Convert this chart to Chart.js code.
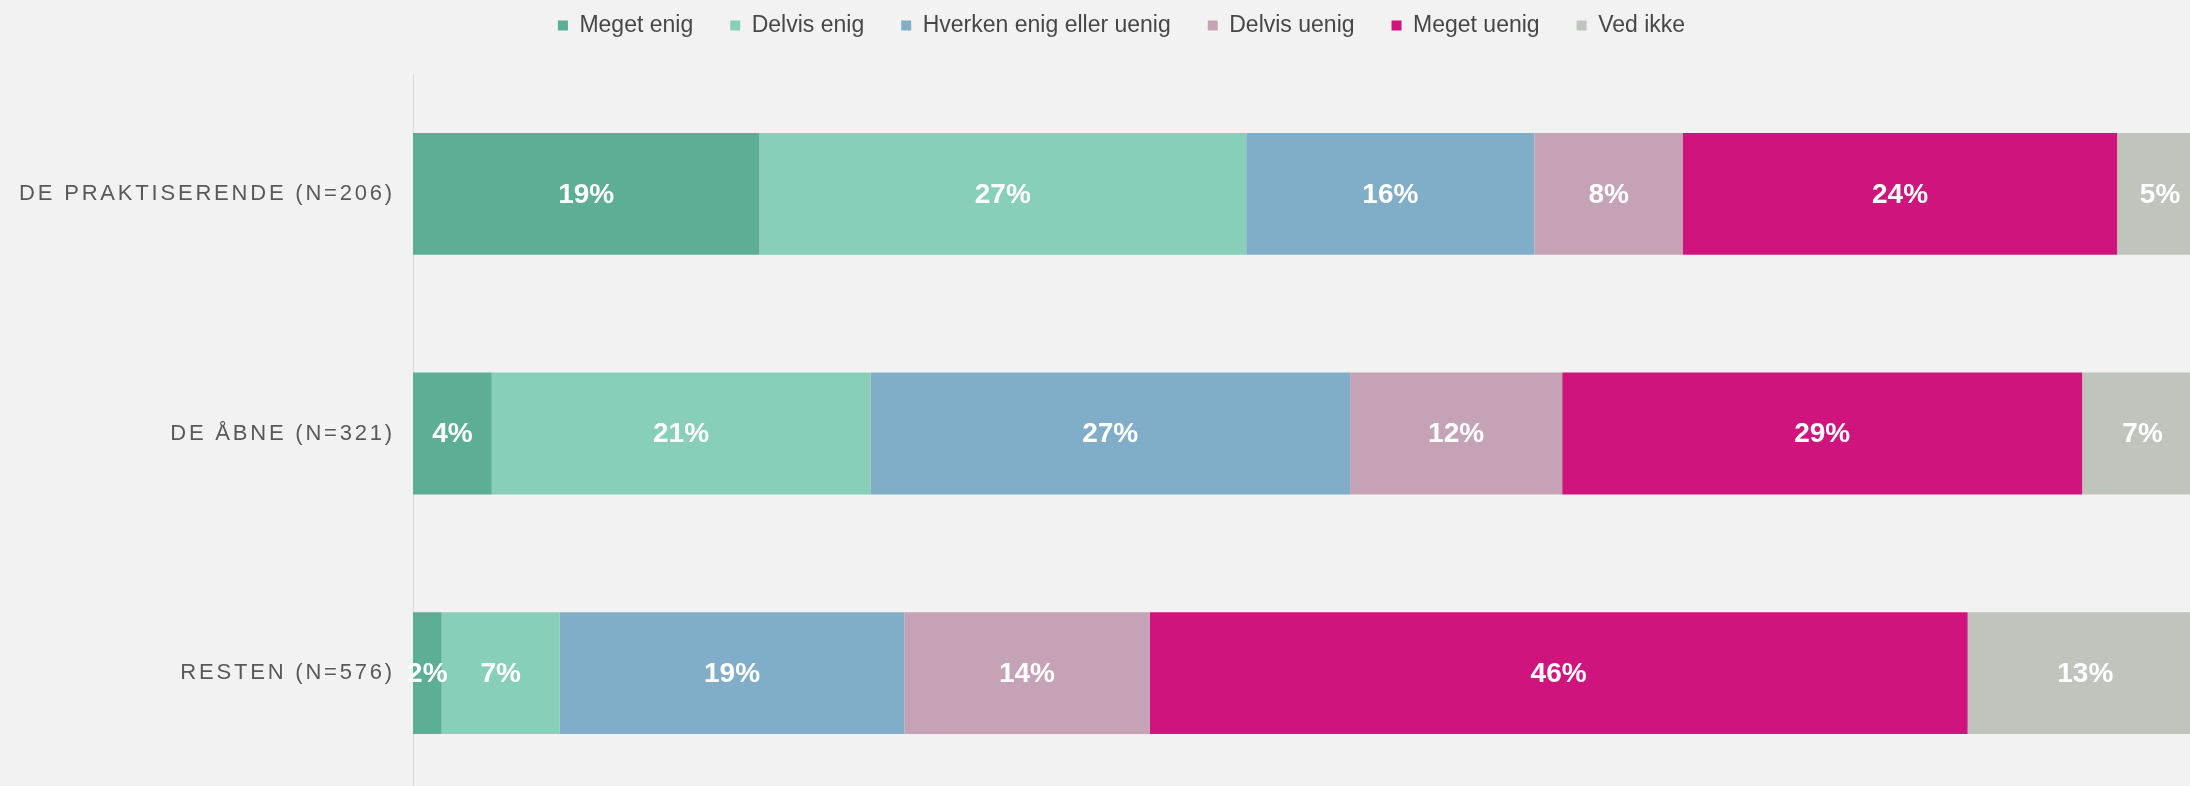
<!DOCTYPE html>
<html>
<head>
<meta charset="utf-8">
<script src="https://cdn.jsdelivr.net/npm/chart.js@4/dist/chart.umd.min.js"></script>
<style>
    html, body {
        margin: 0;
        width: 2190px;
        height: 786px;
        overflow: hidden;
        background: #f2f2f2;
    }
    #wrap {
        position: absolute;
        left: 0;
        top: -23px;
        width: 2242px;
        height: 823px;
    }
</style>
</head>
<body>
<div id="wrap"><canvas id="surveyChart"></canvas></div>
<script>
// Data
const categories = ['DE PRAKTISERENDE (N=206)', 'DE ÅBNE (N=321)', 'RESTEN (N=576)'];
const seriesNames = ['Meget enig', 'Delvis enig', 'Hverken enig eller uenig', 'Delvis uenig', 'Meget uenig', 'Ved ikke'];
const megetEnig = [19.35, 4.4, 1.6];
const delvisEnig = [27.2, 21.15, 6.6];
const hverken = [16.1, 26.8, 19.25];
const delvisUenig = [8.3, 11.85, 13.7];
const megetUenig = [24.25, 29.05, 45.7];
const vedIkke = [4.8, 6.75, 13.15];

const colors = ['#5cae96', '#88cfb9', '#80aec8', '#c6a2b7', '#d0147e', '#bfc4bd'];
const allSeries = [megetEnig, delvisEnig, hverken, delvisUenig, megetUenig, vedIkke];

let datasets = [];
for (let i = 0; i < allSeries.length; i++) {
    datasets.push({
        label: seriesNames[i],
        data: allSeries[i],
        backgroundColor: colors[i],
        borderWidth: 0,
        categoryPercentage: 1,
        barPercentage: 0.508
    })
}

// push the plot area down below the legend
const legendMargin = {
    id: 'legendMargin',
    beforeInit(chart) {
        const fit = chart.legend.fit;
        chart.legend.fit = function () {
            fit.bind(chart.legend)();
            this.height += 27;
        }
    }
};

// category labels with letter spacing
const categoryLabels = {
    id: 'categoryLabels',
    afterDraw(chart) {
        const ctx = chart.ctx;
        const yScale = chart.scales.y;
        ctx.save();
        ctx.font = '22px "Liberation Sans", Arial, sans-serif';
        ctx.fillStyle = '#595959';
        ctx.textAlign = 'right';
        ctx.textBaseline = 'middle';
        ctx.letterSpacing = '2.8px';
        categories.forEach((cat, i) => {
            ctx.fillText(cat, 395, yScale.getPixelForTick(i));
        });
        ctx.restore();
    }
};

// percent labels inside the bars
const barLabels = {
    id: 'barLabels',
    afterDatasetsDraw(chart) {
        const ctx = chart.ctx;
        ctx.save();
        ctx.font = 'bold 28px "Liberation Sans", Arial, sans-serif';
        ctx.fillStyle = '#ffffff';
        ctx.textAlign = 'center';
        ctx.textBaseline = 'middle';
        chart.data.datasets.forEach((ds, d) => {
            chart.getDatasetMeta(d).data.forEach((bar, i) => {
                ctx.fillText(Math.round(ds.data[i]) + '%', (bar.x + bar.base) / 2, bar.y + 1);
            });
        });
        ctx.restore();
    }
};

// Chart creation
const ctx = document.getElementById('surveyChart').getContext('2d');
const surveyChart = new Chart(ctx, {
    type: 'bar',
    data: {
        labels: categories,
        datasets: datasets
    },
    options: {
        indexAxis: 'y',
        responsive: true,
        maintainAspectRatio: false,
        animation: false,
        layout: {
            padding: { left: 40, right: 39, top: 0, bottom: 7 }
        },
        scales: {
            x: {
                stacked: true,
                display: false,
                min: 0,
                max: 100
            },
            y: {
                stacked: true,
                grid: { display: false },
                border: { display: true, color: '#d9d9d9', width: 1 },
                ticks: { display: false },
                afterFit: (scale) => { scale.width = 373; }
            }
        },
        plugins: {
            legend: {
                position: 'top',
                labels: {
                    boxWidth: 10,
                    boxHeight: 10,
                    padding: 37,
                    color: '#474747',
                    font: { size: 23, family: '"Liberation Sans", Arial, sans-serif' }
                }
            },
            tooltip: { enabled: false }
        }
    },
    plugins: [legendMargin, categoryLabels, barLabels]
});
</script>
</body>
</html>
